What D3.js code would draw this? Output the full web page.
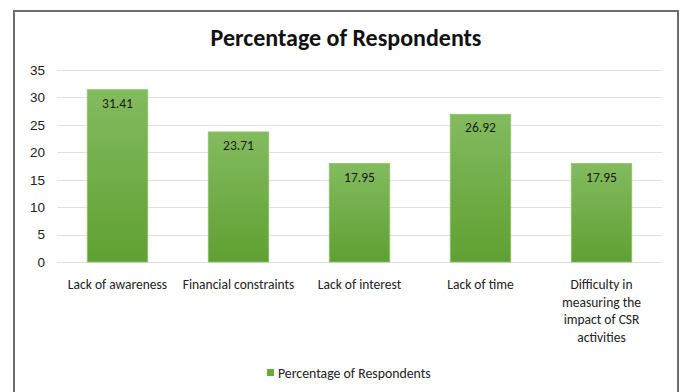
<!DOCTYPE html>
<html><head><meta charset="utf-8">
<script src="https://cdn.jsdelivr.net/npm/d3@7"></script>
<style>
html,body{margin:0;padding:0;background:#fff;}
svg{display:block;font-family:Carlito,"Liberation Sans",Arial,sans-serif;}
</style></head><body>
<svg id="c" width="679" height="392"></svg>
<script>
const categories = ["Lack of awareness","Financial constraints","Lack of interest","Lack of time","Difficulty in measuring the impact of CSR activities"];
const categoryLines = [["Lack of awareness"],["Financial constraints"],["Lack of interest"],["Lack of time"],["Difficulty in","measuring the","impact of CSR","activities"]];
const values = [31.41, 23.71, 17.95, 26.92, 17.95];
const yTicks = [0,5,10,15,20,25,30,35];
const seriesName = "Percentage of Respondents";

const svg = d3.select("#c");
const W = 679, H = 392;
const m = {left:57, right:662, top:70, bottom:262};

// frame
svg.append("path").attr("d",`M14,${H} L14,11 L678,11 L678,${H}`)
  .attr("fill","none").attr("stroke","#6d6d6d").attr("stroke-width",2);

const defs = svg.append("defs");
const g = defs.append("linearGradient").attr("id","bg").attr("x1",0).attr("y1",0).attr("x2",0).attr("y2",1);
g.append("stop").attr("offset","0%").attr("stop-color","#83bb5f");
g.append("stop").attr("offset","100%").attr("stop-color","#60a032");

const x = d3.scaleBand().domain(categories).range([m.left,m.right]).paddingInner(0.5).paddingOuter(0.25);
const y = d3.scaleLinear().domain([0,35]).range([m.bottom,m.top]);

// grid
svg.append("g").selectAll("line").data(yTicks).join("line")
  .attr("x1",m.left).attr("x2",m.right)
  .attr("y1",d=>Math.round(y(d))+0.5).attr("y2",d=>Math.round(y(d))+0.5)
  .attr("stroke","#dfe1e6").attr("stroke-width",1);

// y tick labels
const yAxis = d3.axisLeft(y).tickValues(yTicks).tickSize(0).tickPadding(0);
const ya = svg.append("g").attr("transform",`translate(45,0)`).call(yAxis);
ya.select(".domain").remove();
ya.selectAll("text").attr("font-size",13.5).attr("fill","#222").attr("font-family","inherit");

// bars
svg.append("g").selectAll("rect").data(values).join("rect")
  .attr("x",(d,i)=>x(categories[i]))
  .attr("width",x.bandwidth())
  .attr("y",d=>y(d))
  .attr("height",d=>y(0)-y(d))
  .attr("fill","url(#bg)")
  .attr("stroke","#8cc46a").attr("stroke-width",0.8);

// value labels
svg.append("g").selectAll("text").data(values).join("text")
  .attr("x",(d,i)=>x(categories[i])+x.bandwidth()/2)
  .attr("y",d=>y(d)+18)
  .attr("text-anchor","middle").attr("font-size",13.5).attr("fill","#1a1a1a")
  .text(d=>d.toFixed(2));

// x labels
const xl = svg.append("g");
categories.forEach((c,i)=>{
  const t = xl.append("text").attr("x",x(c)+x.bandwidth()/2).attr("y",289)
    .attr("text-anchor","middle").attr("font-size",13.5).attr("fill","#222");
  categoryLines[i].forEach((ln,j)=>{
    t.append("tspan").attr("x",x(c)+x.bandwidth()/2).attr("dy",j===0?0:17.5).text(ln);
  });
});

// title
svg.append("text").attr("x",346).attr("y",46).attr("text-anchor","middle")
  .attr("font-size",24).attr("font-weight","bold").attr("fill","#111").text(seriesName);

// legend
svg.append("rect").attr("x",267).attr("y",369).attr("width",7).attr("height",7).attr("fill","#6aab3f");
svg.append("text").attr("x",278).attr("y",378).attr("font-size",13.8).attr("fill","#222").text(seriesName);
</script>
</body></html>
